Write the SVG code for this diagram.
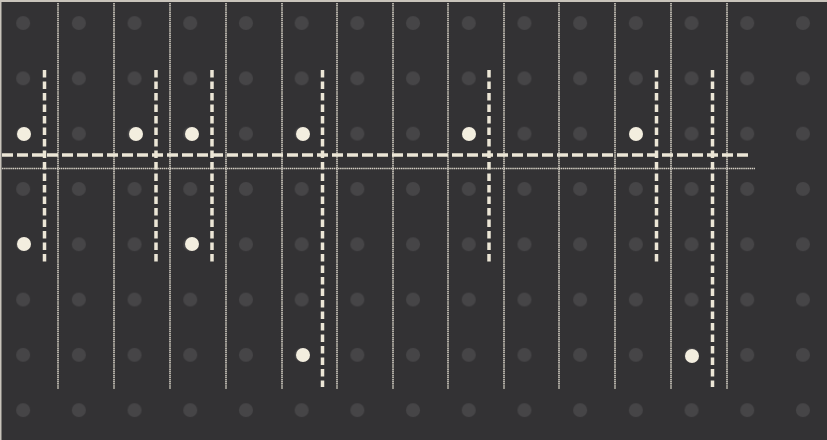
<svg xmlns="http://www.w3.org/2000/svg" width="827" height="440" viewBox="0 0 827 440">
  <defs>
    <pattern id="bgdots" x="0" y="0" width="55.7" height="55.3" patternUnits="userSpaceOnUse" patternTransform="translate(-4.7,-4.6)">
      <circle cx="27.85" cy="27.65" r="7" fill="#464547"/>
    </pattern>
    <style>
      .thin { stroke: #d2cdc2; stroke-width: 1.6; stroke-dasharray: 1.5 0.6; fill: none; }
      .dashv { stroke: #ece6d6; stroke-width: 3.5; stroke-dasharray: 7.5 4; fill: none; }
      .dashh { stroke: #ece6d6; stroke-width: 3.5; stroke-dasharray: 11 4; fill: none; }
      .dot { fill: #f3eedf; }
    </style>
  </defs>
  <rect x="0" y="0" width="827" height="440" fill="#c9c4bb"/>
  <rect x="1.5" y="2" width="826" height="438" fill="#333234"/>
  <rect x="1.5" y="2" width="826" height="438" fill="url(#bgdots)"/>

  <g id="grid-lines">
    <line class="thin" x1="58" y1="3" x2="58" y2="389"/>
    <line class="thin" x1="114" y1="3" x2="114" y2="389"/>
    <line class="thin" x1="170" y1="3" x2="170" y2="389"/>
    <line class="thin" x1="226" y1="3" x2="226" y2="389"/>
    <line class="thin" x1="282" y1="3" x2="282" y2="389"/>
    <line class="thin" x1="337" y1="3" x2="337" y2="389"/>
    <line class="thin" x1="393" y1="3" x2="393" y2="389"/>
    <line class="thin" x1="448" y1="3" x2="448" y2="389"/>
    <line class="thin" x1="504" y1="3" x2="504" y2="389"/>
    <line class="thin" x1="559" y1="3" x2="559" y2="389"/>
    <line class="thin" x1="615" y1="3" x2="615" y2="389"/>
    <line class="thin" x1="671" y1="3" x2="671" y2="389"/>
    <line class="thin" x1="727" y1="3" x2="727" y2="389"/>
    <line class="thin" x1="2" y1="168.5" x2="755" y2="168.5"/>
  </g>

  <g id="connectors">
    <line class="dashh" x1="2" y1="155" x2="750" y2="155"/>
    <line class="dashv" x1="44.5" y1="70" x2="44.5" y2="263"/>
    <line class="dashv" x1="156" y1="70" x2="156" y2="263"/>
    <line class="dashv" x1="212" y1="70" x2="212" y2="263"/>
    <line class="dashv" x1="322.5" y1="70" x2="322.5" y2="387"/>
    <line class="dashv" x1="489" y1="70" x2="489" y2="263"/>
    <line class="dashv" x1="656.5" y1="70" x2="656.5" y2="263"/>
    <line class="dashv" x1="712.5" y1="70" x2="712.5" y2="387"/>
  </g>

  <g id="dots">
    <circle class="dot" cx="24" cy="134" r="7"/>
    <circle class="dot" cx="136" cy="134" r="7"/>
    <circle class="dot" cx="192" cy="134" r="7"/>
    <circle class="dot" cx="303" cy="134" r="7"/>
    <circle class="dot" cx="469" cy="134" r="7"/>
    <circle class="dot" cx="636" cy="134" r="7"/>
    <circle class="dot" cx="24" cy="244" r="7"/>
    <circle class="dot" cx="192" cy="244" r="7"/>
    <circle class="dot" cx="303" cy="355" r="7"/>
    <circle class="dot" cx="692" cy="356" r="7"/>
  </g>
</svg>
